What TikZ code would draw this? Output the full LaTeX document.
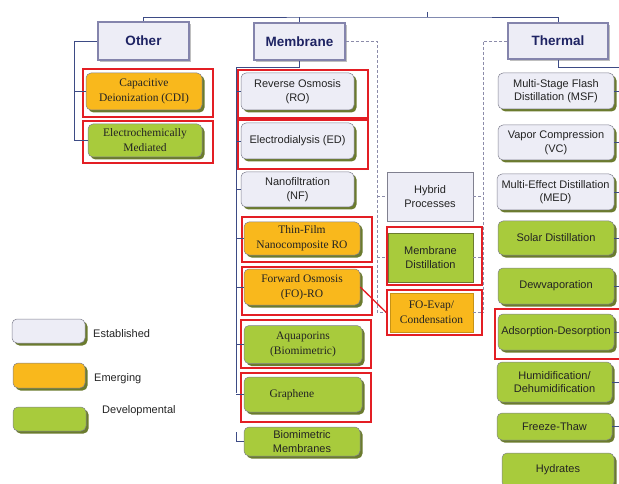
\documentclass[tikz,border=0pt]{standalone}
\usepackage{fontspec}
\setmainfont{Liberation Serif}
\setsansfont{Liberation Sans}
\usetikzlibrary{shadows}
\definecolor{lav}{HTML}{EDEDF6}
\definecolor{orng}{HTML}{F9B81C}
\definecolor{grn}{HTML}{A8CB3C}
\definecolor{redc}{HTML}{E31E24}
\definecolor{navy}{HTML}{3D4B85}
\definecolor{dashc}{HTML}{8C8CAA}
\definecolor{hdrline}{HTML}{8484AC}
\definecolor{hdrtxt}{HTML}{1E2363}
\definecolor{boxline}{HTML}{80808F}
\definecolor{shad}{HTML}{6B7B2E}
\definecolor{txt}{HTML}{232323}
\tikzset{
  box/.style={rounded corners=5pt, draw=boxline, line width=0.5pt, align=center, inner sep=1pt, text=txt,
    drop shadow={shadow xshift=2.5pt, shadow yshift=-2.5pt, fill=shad, opacity=1}},
  sq/.style={draw=boxline, line width=0.6pt, align=center, inner sep=1pt, text=txt},
  sf/.style={font=\sffamily\fontsize{11}{13.5}\selectfont},
  rmf/.style={font=\rmfamily\fontsize{11.5}{15}\selectfont},
  est/.style={box, fill=lav, sf},
  emg/.style={box, fill=orng, rmf},
  devs/.style={box, fill=grn, sf},
  devr/.style={box, fill=grn, rmf},
  hdr/.style={fill=lav, draw=hdrline, line width=1.8pt, text=hdrtxt, font=\sffamily\bfseries\fontsize{13.5}{16}\selectfont,
    drop shadow={shadow xshift=2pt, shadow yshift=-2pt, fill=gray!50, opacity=1}},
  redbox/.style={draw=redc, line width=1.5pt, inner sep=0pt},
  tree/.style={draw=navy, line width=0.7pt},
  dline/.style={draw=dashc, line width=0.7pt, dash pattern=on 3pt off 2pt},
  legtxt/.style={font=\sffamily\fontsize{11}{13}\selectfont, text=txt, anchor=west, inner sep=0pt}
}
\newcommand\bx[7]{\node[#2, minimum width=#5pt, minimum height=#6pt] (#1) at (#3,#4) {#7};}
\newcommand\rbx[5]{\path ({(#2+#4)/2},{(#3+#5)/2}) node[redbox, minimum width={(#4-#2)*1pt}, minimum height={(#5-#3)*1pt}] (#1) {};}
\begin{document}
\begin{tikzpicture}[x=1pt,y=-1pt]
\useasboundingbox (0,0) rectangle (619,484);
\clip (0,0) rectangle (619,484);
% headers
\bx{Other}{hdr}{143.5}{41}{91}{38}{Other}
\bx{Membrane}{hdr}{299.5}{41.5}{91}{37}{Membrane}
\bx{Thermal}{hdr}{558}{41}{100}{36}{Thermal}
% Other column
\bx{CDI}{emg}{144}{91.5}{116}{37}{Capacitive\\Deionization (CDI)}
\bx{EC}{devr}{145}{140.5}{114}{33}{Electrochemically\\Mediated}
% Membrane column
\bx{RO}{est}{297.5}{91.5}{113}{37}{Reverse Osmosis\\(RO)}
\bx{ED}{est}{297.5}{141}{113}{36}{Electrodialysis (ED)}
\bx{NF}{est}{297.5}{189.5}{113}{35}{Nanofiltration\\(NF)}
\bx{TFN}{emg}{302}{238.5}{116}{33}{Thin-Film\\Nanocomposite RO}
\bx{FO}{emg}{302}{287}{116}{36}{Forward Osmosis\\(FO)-RO}
\bx{Aqua}{devr}{303}{344.5}{118}{38}{Aquaporins\\(Biomimetric)}
\bx{Graph}{devr}{303}{394.5}{118}{35}{Graphene\hspace*{22pt}}
\bx{Bio}{devs}{302}{441.5}{116}{29}{Biomimetric\\Membranes}
% Hybrid column
\bx{Hyb}{sq, fill=lav, sf}{430}{196.5}{86}{49}{Hybrid\\Processes}
\bx{MD}{sq, fill=grn, sf, draw=shad}{430.5}{257.5}{85}{49}{Membrane\\Distillation}
\bx{FOE}{sq, fill=orng, rmf, draw=orng!80!black}{431.5}{312.5}{83}{39}{FO-Evap/\\Condensation}
% Thermal column
\bx{MSF}{est}{556}{91}{116}{36}{Multi-Stage Flash\\Distillation (MSF)}
\bx{VC}{est}{556}{142.5}{116}{35}{Vapor Compression\\(VC)}
\bx{MED}{est}{555.5}{192}{117}{36}{Multi-Effect Distillation\\(MED)}
\bx{Solar}{devs}{556}{238}{116}{34}{Solar Distillation}
\bx{Dew}{devs}{556}{286}{116}{36}{Dewvaporation}
\bx{Ads}{devs}{556}{332}{116}{36}{Adsorption-Desorption}
\bx{Hum}{devs}{554.5}{382}{115}{40}{Humidification/\\Dehumidification}
\bx{Frz}{devs}{554.5}{426.5}{115}{27}{Freeze-Thaw}
\bx{Hyd}{devs}{558}{470}{112}{34}{Hydrates}
% red frames
\rbx{CDIr}{83}{69}{213}{117}
\rbx{ECr}{83}{121}{213}{163}
\rbx{ROr}{238}{70}{368}{118}
\rbx{EDr}{238}{120}{368}{169}
\rbx{TFNr}{242}{217}{372}{262}
\rbx{FOr}{242}{267}{372}{315}
\rbx{Aquar}{241}{320}{371}{368}
\rbx{Graphr}{241}{373}{371}{422}
\rbx{MDr}{387}{227}{482}{285}
\rbx{FOEr}{387}{290}{482}{335}
\rbx{Adsr}{495}{309}{625}{359}
% top connectors
\coordinate (Jt) at (427,12);
\coordinate (J) at (427,17);
\draw[tree] (Jt) -- (J);
\draw[tree] (Other.north) |- (J) -| (Thermal.north);
\draw[tree] (Membrane.north) -- (Membrane.north |- J);
% Other tree
\coordinate (ot) at (74,41);
\draw[tree] (Other.west) -- (ot) |- (EC.west);
\draw[tree] (ot) |- (CDI.west);
% Membrane tree
\coordinate (mt) at (236,67);
\coordinate (mb) at (236,393);
\draw[tree] (Membrane.south) |- (mt) -- (mb);
\foreach \n in {RO,ED,NF,TFN,FO,Aqua,Graph}{\draw[tree] (mt |- \n.west) -- (\n.west);}
\coordinate (bt) at (236,432);
\draw[tree] (bt) |- (Bio.west);
% dashed hybrid links
\coordinate (dl) at (377,41.5);
\draw[dline] (Membrane.east) -- (dl) |- (FOEr.west);
\draw[dline] (dl |- Hyb.west) -- (Hyb.west);
\draw[dline] (dl |- MD.west) -- (MDr.west |- MD.west);
\coordinate (dr) at (483,41);
\draw[dline] (Thermal.west) -- (dr) -- (dr |- FOE.east);
\draw[dline] (Hyb.east) -- (dr |- Hyb.east);
\draw[dline] (MD.east) -- (dr |- MD.east);
\draw[dline] (FOE.east) -- (dr |- FOE.east);
% Thermal tree
\coordinate (tr) at (619,67);
\draw[tree] (Thermal.south) |- (tr);
\foreach \n in {MSF,VC,MED,Solar,Dew,Ads,Hum,Frz}{\draw[tree] (\n.east) -- (\n.east -| tr);}
% red connector
\draw[redc, line width=1.3pt] (FO.east) -- (FOEr.west);
% legend
\bx{Lest}{box, fill=lav}{48.5}{331}{73}{24}{}
\bx{Lemg}{box, fill=orng}{49}{375.5}{72}{25}{}
\bx{Ldev}{box, fill=grn}{49.5}{419}{73}{24}{}
\node[legtxt] (Test) at (93,334) {Established};
\node[legtxt] (Temg) at (94,379) {Emerging};
\node[legtxt] (Tdev) at (102,411) {Developmental};
\end{tikzpicture}
\end{document}
